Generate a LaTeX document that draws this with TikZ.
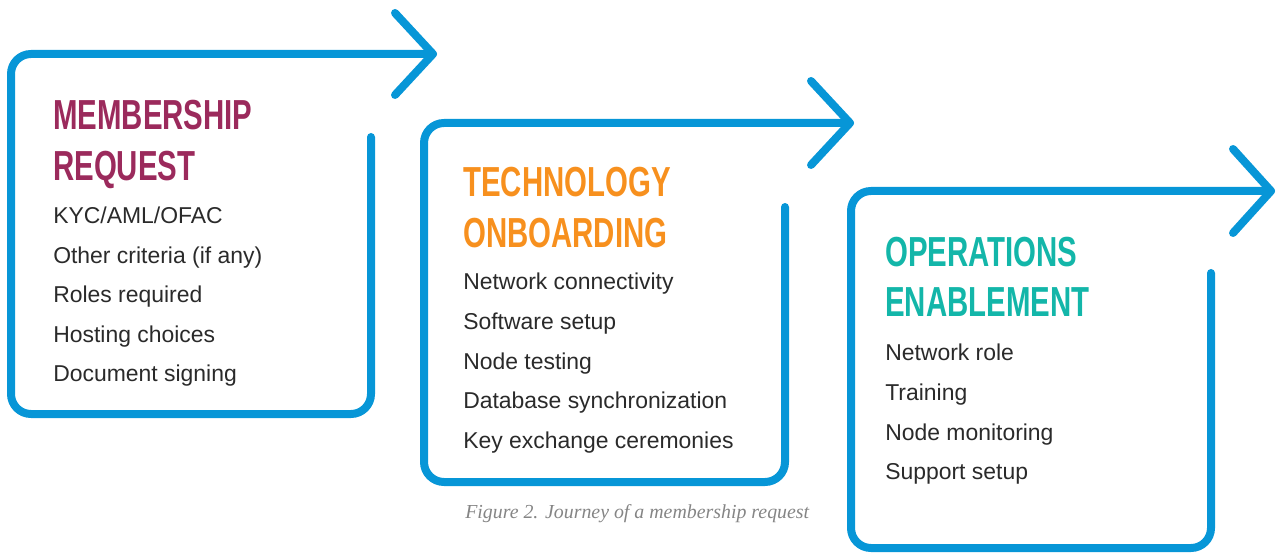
\documentclass[tikz,border=0pt]{standalone}
\usepackage{fontspec}
\setmainfont{Liberation Sans}
\newfontfamily\headfont[FakeStretch=0.70]{Liberation Sans}
\newfontfamily\capfont{Liberation Serif}
\definecolor{flowblue}{HTML}{0796D7}
\definecolor{maroonh}{HTML}{9B2A5C}
\definecolor{orangeh}{HTML}{F7901E}
\definecolor{tealh}{HTML}{13B6A9}
\definecolor{bodytext}{HTML}{2A2A2A}
\definecolor{capgray}{HTML}{858585}
\tikzset{
  x=0.75pt, y=-0.75pt,
  frame/.style={draw=flowblue, line width=6pt, rounded corners=15pt, line cap=round, line join=round},
  tiphead/.style={draw=flowblue, line width=6pt, line cap=round, line join=round},
  headtxt/.style={anchor=base west, inner sep=0pt, font=\headfont\bfseries\fontsize{31.5}{31.5}\selectfont},
  itemtxt/.style={anchor=base west, inner sep=0pt, text=bodytext, font=\fontsize{17.2}{17.2}\selectfont},
  captxt/.style={anchor=base west, inner sep=0pt, text=capgray, font=\capfont\itshape\fontsize{14.9}{14.9}\selectfont}
}
\begin{document}
\begin{tikzpicture}
\useasboundingbox (0,0) rectangle (1276,555);
% box 1
\draw[frame] (371,137) -- (371,414) -- (11,414) -- (11,54) -- (433,54);
\draw[tiphead] (395,13) -- (433,54) -- (395,95);
% box 2
\draw[frame] (785,207) -- (785,482) -- (424,482) -- (424,123) -- (850,123);
\draw[tiphead] (811,81) -- (850,123) -- (811,165);
% box 3
\draw[frame] (1211,273) -- (1211,548) -- (851,548) -- (851,191) -- (1271,191);
\draw[tiphead] (1233,149) -- (1271,191) -- (1233,233);
% headings
\node[headtxt, text=maroonh] (h1a) at (53,130) {MEMBERSHIP};
\node[headtxt, text=maroonh] (h1b) at (53,181) {REQUEST};
\node[headtxt, text=orangeh] (h2a) at (463,197) {TECHNOLOGY};
\node[headtxt, text=orangeh] (h2b) at (463,248) {ONBOARDING};
\node[headtxt, text=tealh] (h3a) at (885,267) {OPERATIONS};
\node[headtxt, text=tealh] (h3b) at (885,317) {ENABLEMENT};
% items
\node[itemtxt] (i11) at (53,224) {KYC/AML/OFAC};
\node[itemtxt] (i12) at (53,263.5) {Other criteria (if any)};
\node[itemtxt] (i13) at (53,303) {Roles required};
\node[itemtxt] (i14) at (53,342.5) {Hosting choices};
\node[itemtxt] (i15) at (53,382) {Document signing};
\node[itemtxt] (i21) at (463,290) {Network connectivity};
\node[itemtxt] (i22) at (463,329.5) {Software setup};
\node[itemtxt] (i23) at (463,369) {Node testing};
\node[itemtxt] (i24) at (463,408.5) {Database synchronization};
\node[itemtxt] (i25) at (463,448) {Key exchange ceremonies};
\node[itemtxt] (i31) at (885,361) {Network role};
\node[itemtxt] (i32) at (885,400.5) {Training};
\node[itemtxt] (i33) at (885,440) {Node monitoring};
\node[itemtxt] (i34) at (885,479.5) {Support setup};
% caption
\node[captxt] (cap) at (465,518) {Figure 2. Journey of a membership request};
\end{tikzpicture}
\end{document}
